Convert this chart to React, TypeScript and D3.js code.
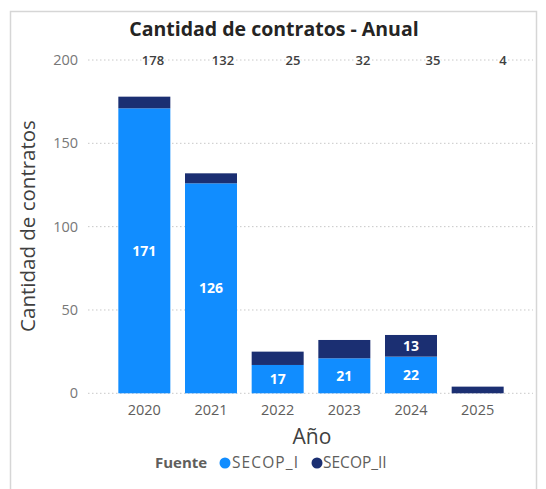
import React from "react";
import * as d3 from "d3";

const years = ["2020", "2021", "2022", "2023", "2024", "2025"];
const secopI = [171, 126, 17, 21, 22, 0];
const secopII = [7, 6, 8, 11, 13, 4];
const totals = [178, 132, 25, 32, 35, 4];
const yTicks = [0, 50, 100, 150, 200];
const seriesNames = ["SECOP_I", "SECOP_II"];
const seriesColors = ["#118DFF", "#1B2F72"];

const W = 546;
const H = 489;
const FONT = "'Segoe UI', 'Open Sans', sans-serif";

export default function App() {
  const x = d3.scaleBand<string>().domain(years).range([111, 511]).paddingInner(0.22).paddingOuter(0.11);
  const xTot = d3.scaleBand<string>().domain(years).range([118, 538]);
  const y = d3.scaleLinear().domain([0, 200]).range([393.3, 60]);

  const stackData = years.map((yr, i) => ({ year: yr, SECOP_I: secopI[i], SECOP_II: secopII[i] }));
  const stack = d3.stack<any>().keys(seriesNames)(stackData);

  return (
    <svg width={W} height={H} style={{ position: "absolute", left: 0, top: 0, background: "#fff" }} fontFamily={FONT}>
      <rect x={10.5} y={11.5} width={526} height={490} fill="#fff" stroke="#D6D6D6" strokeWidth={1.5} />
      <text x={274} y={36} textAnchor="middle" fontSize={19.5} fontWeight={700} fill="#252423">
        Cantidad de contratos - Anual
      </text>

      {yTicks.map((t) => (
        <g key={t}>
          <line x1={88} x2={533} y1={y(t)} y2={y(t)} stroke="#C8C8C8" strokeDasharray="1.5,2.5" />
          <text x={78} y={y(t)} dy="0.35em" textAnchor="end" fontSize={14.5} fill="#777">
            {t}
          </text>
        </g>
      ))}

      {stack.map((s, si) => (
        <g key={s.key} fill={seriesColors[si]}>
          {s.map((d, i) => (
            <rect key={i} x={x(years[i])} width={x.bandwidth()} y={y(d[1])} height={Math.max(0, y(d[0]) - y(d[1]))} />
          ))}
        </g>
      ))}

      {stack.map((s, si) =>
        s.map((d, i) => {
          const v = d[1] - d[0];
          const h = y(d[0]) - y(d[1]);
          if (v <= 0 || h < 20) return null;
          return (
            <text key={`${si}-${i}`} x={(x(years[i]) as number) + x.bandwidth() / 2} y={(y(d[0]) + y(d[1])) / 2} dy="0.35em" textAnchor="middle" fontSize={14} fontWeight={700} fill="#fff">
              {v}
            </text>
          );
        })
      )}

      {totals.map((t, i) => (
        <text key={i} x={(xTot(years[i]) as number) + xTot.bandwidth() / 2} y={60} dy="0.35em" textAnchor="middle" fontSize={13} fontWeight={600} fill="#404040" stroke="#fff" strokeWidth={3} paintOrder="stroke">
          {t}
        </text>
      ))}

      {years.map((yr) => (
        <text key={yr} x={(x(yr) as number) + x.bandwidth() / 2} y={410} dy="0.35em" textAnchor="middle" fontSize={14.5} fill="#605E5C">
          {yr}
        </text>
      ))}

      <text x={312} y={437} dy="0.35em" textAnchor="middle" fontSize={21} fill="#404040">
        Año
      </text>
      <text transform="translate(28,226) rotate(-90)" dy="0.35em" textAnchor="middle" fontSize={20.5} fill="#404040">
        Cantidad de contratos
      </text>

      <text x={155} y={463} dy="0.35em" fontSize={15} fontWeight={700} fill="#605E5C">
        Fuente
      </text>
      <circle cx={225} cy={463} r={5.5} fill={seriesColors[0]} />
      <text x={232} y={463} dy="0.35em" fontSize={15.5} fill="#605E5C" textLength={66}>
        {seriesNames[0]}
      </text>
      <circle cx={317} cy={463} r={5.5} fill={seriesColors[1]} />
      <text x={323} y={463} dy="0.35em" fontSize={15.5} fill="#605E5C">
        {seriesNames[1]}
      </text>
    </svg>
  );
}
